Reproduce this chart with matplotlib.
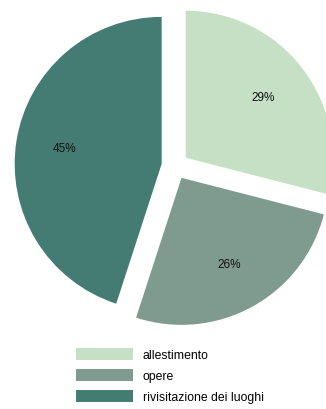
import matplotlib.pyplot as plt

# data
labels = ["allestimento", "opere", "rivisitazione dei luoghi"]
values = [29, 26, 45]
colors = ["#c6e0c6", "#7f9a8f", "#447c73"]

plt.rcParams['font.family'] = ['Liberation Sans', 'DejaVu Sans']

fig = plt.figure(figsize=(3.26, 4.10), dpi=100)
ax = fig.add_axes([0, 0, 1, 1])

# pie centre / radius in figure pixels
cx, cy, r = 175, 410 - 167, 147

# explode is in data units here (pixels)
wedges, texts, autotexts = ax.pie(
    values, colors=colors, startangle=90, counterclock=False,
    explode=[13.5] * 3, autopct='%d%%', pctdistance=0.67,
    center=(cx, cy), radius=r, textprops={'fontsize': 8.5, 'color': '#111111'})

ax.set_xlim(0, 326)
ax.set_ylim(0, 410)
ax.set_aspect('equal')
ax.axis('off')

leg = ax.legend(wedges, labels, loc='upper left',
                bbox_to_anchor=(76 / 326, 1 - 349 / 410), bbox_transform=fig.transFigure,
                frameon=False, fontsize=8.8, borderpad=0, borderaxespad=0,
                handlelength=4.7, handleheight=1.15, handletextpad=0.75,
                labelspacing=0.62)

fig.savefig("out.png", dpi=100)
